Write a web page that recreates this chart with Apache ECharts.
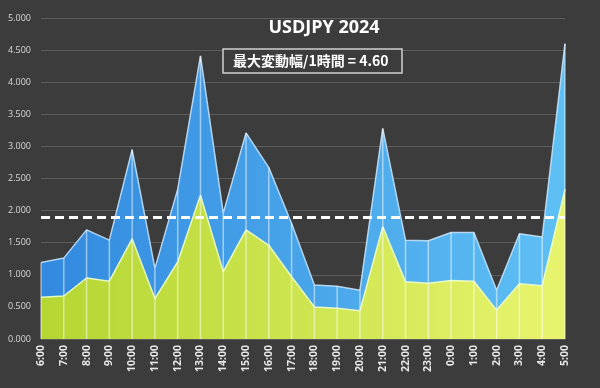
<!DOCTYPE html>
<html>
<head>
<meta charset="utf-8">
<script src="https://cdn.jsdelivr.net/npm/echarts@6/dist/echarts.min.js"></script>
<style>
html,body{margin:0;padding:0;background:#3d3d3d;}
#c{width:600px;height:388px;}
</style>
</head>
<body>
<div id="c"></div>
<script>
const categories = ['6:00','7:00','8:00','9:00','10:00','11:00','12:00','13:00','14:00','15:00','16:00','17:00','18:00','19:00','20:00','21:00','22:00','23:00','0:00','1:00','2:00','3:00','4:00','5:00'];
const maxRange = [1.19,1.26,1.70,1.54,2.95,1.10,2.33,4.41,1.96,3.21,2.67,1.80,0.84,0.82,0.76,3.28,1.54,1.53,1.66,1.66,0.76,1.64,1.59,4.60];
const avgRange = [0.65,0.67,0.95,0.90,1.56,0.63,1.20,2.24,1.05,1.70,1.46,0.97,0.50,0.48,0.44,1.75,0.89,0.87,0.91,0.90,0.45,0.86,0.83,2.33];
const referenceLine = 1.89;
const titleText = 'USDJPY 2024';
const boxText = '最大変動幅/1時間 = 4.60';

const chart = echarts.init(document.getElementById('c'));
const grad = (a, b) => new echarts.graphic.LinearGradient(0, 0, 1, 0, [{offset:0,color:a},{offset:1,color:b}]);
chart.setOption({
  backgroundColor: '#3c3c3c',
  animation: false,
  title: [
    {text: titleText, left: 319, top: 14, textAlign: 'center',
     textStyle: {color: '#ffffff', fontSize: 18, fontWeight: 'bold', fontFamily: 'Open Sans, sans-serif'}},
    {text: boxText, left: 223, top: 49, padding: [5, 14, 5, 10],
     backgroundColor: '#3c3c3c', borderColor: '#d0d0d0', borderWidth: 1.5,
     textStyle: {color: '#ffffff', fontSize: 14, fontWeight: 'bold', fontFamily: 'Noto Sans CJK JP, sans-serif'}}
  ],
  grid: {left: 41, right: 35, top: 18, bottom: 49},
  xAxis: {
    type: 'category', data: categories, boundaryGap: false,
    axisLine: {show: false}, axisTick: {show: false},
    axisLabel: {rotate: 90, color: '#e6e6e6', fontSize: 10.5, fontWeight: 'bold', margin: 6, fontFamily: 'Open Sans, sans-serif', interval: 0}
  },
  yAxis: {
    type: 'value', min: 0, max: 5, interval: 0.5,
    axisLine: {show: false}, axisTick: {show: false},
    axisLabel: {color: '#d8d8d8', fontSize: 9, margin: 10, fontFamily: 'Open Sans, sans-serif', formatter: v => v.toFixed(3)},
    splitLine: {lineStyle: {color: '#5c5c5c', width: 1}}
  },
  series: [
    {type: 'line', data: maxRange, symbol: 'none', z: 2,
     lineStyle: {color: 'rgba(200,230,255,0.85)', width: 1.5},
     areaStyle: {color: grad('#3289df', '#5fc0f4'), opacity: 1},
     markLine: {silent: true, symbol: 'none', label: {show: false},
       lineStyle: {color: '#ffffff', type: [9, 5], width: 3},
       data: [{yAxis: referenceLine}], z: 10}},
    {type: 'line', data: avgRange, symbol: 'none', z: 3,
     lineStyle: {color: 'rgba(240,255,200,0.9)', width: 1.5},
     areaStyle: {color: grad('#b4d632', '#e8f46e'), opacity: 1}},
    {type: 'bar', data: maxRange, barWidth: 1.5, z: 4, barGap: '-100%',
     itemStyle: {color: 'rgba(255,255,255,0.5)'}}
  ]
});
</script>
</body>
</html>
